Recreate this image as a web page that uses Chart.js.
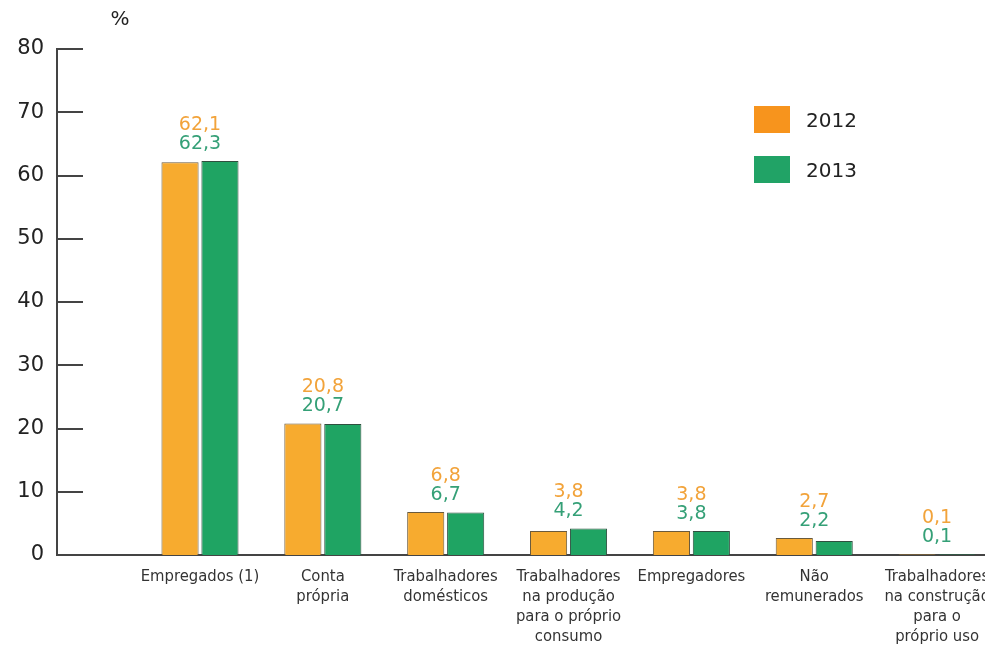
<!DOCTYPE html>
<html>
<head>
<meta charset="utf-8">
<script src="https://cdn.jsdelivr.net/npm/chart.js@4"></script>
<style>
  html, body { margin: 0; padding: 0; background: #fff; }
  #wrap { width: 985px; height: 647px; }
</style>
</head>
<body>
<div id="wrap"><canvas id="c" width="985" height="647"></canvas></div>
<script>
// ---- data ----
const categories = [
  ["Empregados (1)"],
  ["Conta", "própria"],
  ["Trabalhadores", "domésticos"],
  ["Trabalhadores", "na produção", "para o próprio", "consumo"],
  ["Empregadores"],
  ["Não", "remunerados"],
  ["Trabalhadores", "na construção", "para o", "próprio uso"]
];
const seriesNames = ["2012", "2013"];
const values2012 = [62.1, 20.8, 6.8, 3.8, 3.8, 2.7, 0.1];
const values2013 = [62.3, 20.7, 6.7, 4.2, 3.8, 2.2, 0.1];
const yTicks = [0, 10, 20, 30, 40, 50, 60, 70, 80];

// ---- styles ----
const barColors = ["#F7AB2F", "#1FA463"];
const barBorders = ["#6a5a3c", "#2f4f3f"];
const legendColors = ["#F7941D", "#21A366"];
const labelColors = ["#F2A33A", "#35A077"];
const axisColor = "#444";
const numFont = "'DejaVu Sans', 'Liberation Sans', sans-serif";
const catFont = "'Liberation Sans Narrow', 'DejaVu Sans Condensed', 'Roboto Condensed', sans-serif";

const fmt = v => v.toFixed(1).replace('.', ',');

const toPoints = arr => arr.map((v, i) => ({ x: i, y: v }));

const decor = {
  id: 'decor',
  afterDraw(chart) {
    const ctx = chart.ctx;
    const ys = chart.scales.y;
    const area = chart.chartArea;
    ctx.save();
    // inward tick marks on y axis
    ctx.strokeStyle = axisColor;
    ctx.lineWidth = 2;
    yTicks.forEach(t => {
      if (t === 0) return;
      const py = Math.round(ys.getPixelForValue(t)) ;
      ctx.beginPath();
      ctx.moveTo(area.left, py);
      ctx.lineTo(area.left + 26, py);
      ctx.stroke();
    });
    // % unit label
    ctx.fillStyle = "#222";
    ctx.font = "20px " + numFont;
    ctx.textAlign = "center";
    ctx.textBaseline = "middle";
    ctx.fillText("%", area.left + 63, 20);
    // value labels
    const m0 = chart.getDatasetMeta(0).data;
    const m1 = chart.getDatasetMeta(1).data;
    ctx.font = "19px " + numFont;
    for (let i = 0; i < categories.length; i++) {
      const top = Math.min(m0[i].y, m1[i].y);
      const cx = (m0[i].x + m1[i].x) / 2;
      ctx.fillStyle = labelColors[1];
      ctx.fillText(fmt(values2013[i]), cx, top - 17);
      ctx.fillStyle = labelColors[0];
      ctx.fillText(fmt(values2012[i]), cx, top - 36);
    }
    // legend
    ctx.font = "20px " + numFont;
    ctx.textAlign = "left";
    seriesNames.forEach((name, k) => {
      const by = 106 + k * 50;
      ctx.fillStyle = legendColors[k];
      ctx.fillRect(754, by, 36, 27);
      ctx.fillStyle = "#222";
      ctx.fillText(name, 806, by + 16);
    });
    ctx.restore();
  }
};

new Chart(document.getElementById('c'), {
  type: 'bar',
  data: {
    datasets: [
      { label: seriesNames[0], data: toPoints(values2012), backgroundColor: barColors[0], borderColor: barBorders[0], borderWidth: 1 },
      { label: seriesNames[1], data: toPoints(values2013), backgroundColor: barColors[1], borderColor: barBorders[1], borderWidth: 1 }
    ]
  },
  options: {
    responsive: false,
    animation: false,
    categoryPercentage: 0.65,
    barPercentage: 0.93,
    layout: { padding: { top: 49, left: 0, right: 0, bottom: 0 } },
    plugins: { legend: { display: false }, tooltip: { enabled: false } },
    scales: {
      x: {
        type: 'linear',
        offset: false,
        min: -1.164,
        max: 6.39,
        afterBuildTicks: s => { s.ticks = categories.map((_, i) => ({ value: i })); },
        afterFit: s => { s.height = 92; s.paddingLeft = 0; s.paddingRight = 0; },
        grid: { display: false, drawTicks: false },
        border: { display: true, color: axisColor, width: 2 },
        ticks: {
          autoSkip: false,
          maxRotation: 0,
          minRotation: 0,
          padding: 12,
          color: "#333",
          font: { family: catFont, size: 16.5, lineHeight: 1.2 },
          callback: v => categories[v] || ''
        }
      },
      y: {
        min: 0,
        max: 80,
        afterBuildTicks: s => { s.ticks = yTicks.map(v => ({ value: v })); },
        afterFit: s => { s.width = 57; s.paddingTop = 0; s.paddingBottom = 0; },
        grid: { display: false, drawTicks: false },
        border: { display: true, color: axisColor, width: 2 },
        ticks: {
          padding: 13,
          color: "#222",
          font: { family: numFont, size: 21 },
          callback: v => String(v)
        }
      }
    }
  },
  plugins: [decor]
});
</script>
</body>
</html>
